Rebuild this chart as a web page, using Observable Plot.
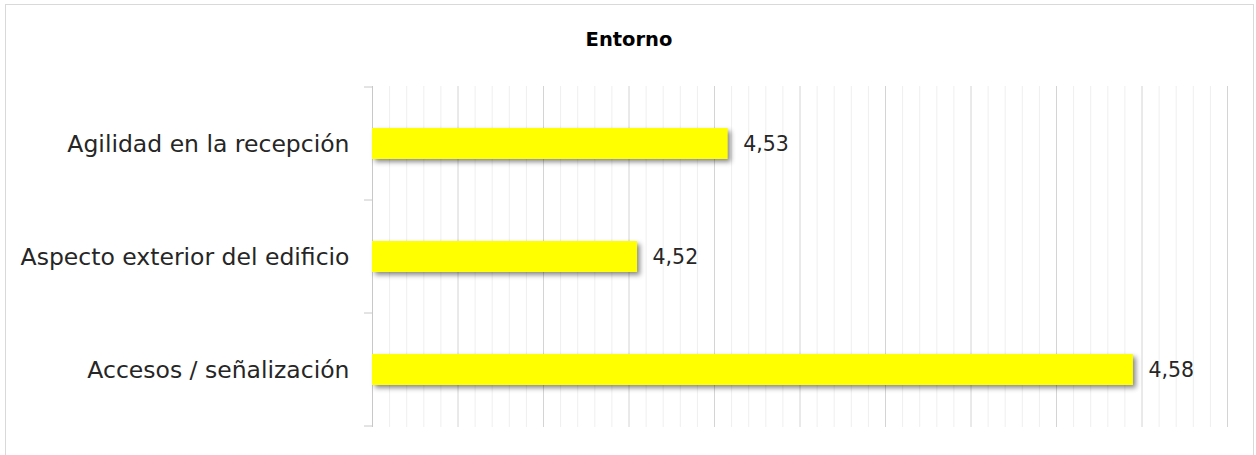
<!DOCTYPE html>
<html><head><meta charset="utf-8">
<script src="https://cdn.jsdelivr.net/npm/d3@7"></script>
<script src="https://cdn.jsdelivr.net/npm/@observablehq/plot@0.6"></script>
<style>
body{margin:0;background:#fff;}
#wrap{position:relative;width:1256px;height:455px;overflow:hidden;}
#frame{position:absolute;left:5px;top:4px;width:1249px;height:470px;border:1.5px solid #d9d9d9;box-sizing:border-box;}
#chart{position:absolute;left:0;top:0;}
#title{position:absolute;left:0;width:1258px;top:28px;text-align:center;font:bold 19.5px "DejaVu Sans";color:#000;}
</style></head><body>
<div id="wrap"><div id="frame"></div><div id="chart"></div><div id="title">Entorno</div></div>
<script>
const categories = ["Agilidad en la recepción", "Aspecto exterior del edificio", "Accesos / señalización"];
const values = [4.5316, 4.521, 4.579];
const valueLabels = ["4,53", "4,52", "4,58"];
const xDomain = [4.49, 4.59];

const data = categories.map((c, i) => ({cat: c, value: values[i], label: valueLabels[i]}));
const major = d3.range(0, 11).map(i => xDomain[0] + i * 0.01);
const minor = d3.range(0, 51).filter(i => i % 5 !== 0).map(i => xDomain[0] + i * 0.002);

const chart = Plot.plot({
  width: 1256, height: 455,
  marginLeft: 372, marginRight: 29, marginTop: 86, marginBottom: 28,
  x: {domain: xDomain, axis: null},
  y: {domain: categories, padding: 0, axis: null},
  style: {background: "transparent", fontFamily: "DejaVu Sans"},
  marks: [
    Plot.ruleX(minor, {stroke: "#efefef", strokeWidth: 1}),
    Plot.ruleX(major, {stroke: "#d4d4d4", strokeWidth: 1}),
    Plot.ruleX([xDomain[0]], {stroke: "#c8c8c8", strokeWidth: 1}),
    Plot.barX(data, {y: "cat", x1: () => xDomain[0], x2: "value", fill: "#ffff00", insetTop: 41, insetBottom: 41}),
    Plot.text(data, {y: "cat", x: "value", text: "label", dx: 15, textAnchor: "start", fontSize: 20.5, fill: "#262626"}),
    Plot.text(data, {y: "cat", text: "cat", frameAnchor: "left", dx: -23, textAnchor: "end", fontSize: 23.5, fill: "#262626"})
  ]
});

const svg = d3.select(chart);
const ys = chart.scale("y");
const bounds = categories.map(c => ys.apply(c)).concat([ys.apply(categories[categories.length - 1]) + ys.bandwidth]);
const g = svg.append("g");
bounds.forEach(b => {
  g.append("line").attr("x1", 364).attr("x2", 372).attr("y1", b).attr("y2", b)
   .attr("stroke", "#c8c8c8").attr("stroke-width", 1);
});
svg.selectAll('g[aria-label="bar"]').style("filter", "drop-shadow(3px 3px 2.5px rgba(0,0,0,0.45))");

document.getElementById("chart").appendChild(chart);
</script>
</body></html>
